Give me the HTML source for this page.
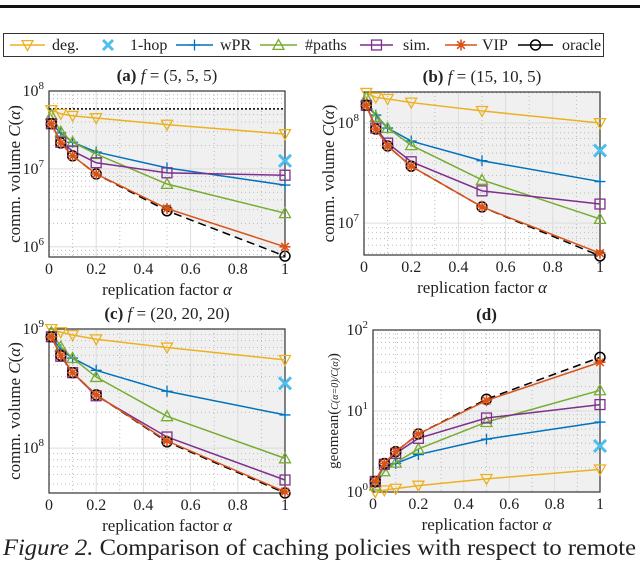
<!DOCTYPE html>
<html><head><meta charset="utf-8"><style>
body{margin:0;background:#fff;width:640px;height:560px;overflow:hidden}
svg text{font-family:"Liberation Serif",serif;fill:#222}
</style></head><body>
<svg id="fig" width="640" height="560" xmlns="http://www.w3.org/2000/svg">
<rect x="0" y="5" width="640" height="3" fill="#111"/>
<g id="legend"></g>
<text x="3" y="555" font-size="23" textLength="633" lengthAdjust="spacingAndGlyphs"><tspan font-style="italic">Figure 2.</tspan> Comparison of caching policies with respect to remote</text>
</svg>
<script>
const alphas=[0.01,0.05,0.1,0.2,0.5,1];
const seriesNames=["deg.","wPR","#paths","sim.","VIP","oracle"];
const aDeg=[5.7e7,5.1e7,4.8e7,4.5e7,3.7e7,2.8e7];
const aWpr=[3.8e7,2.9e7,2.2e7,1.65e7,1.03e7,6.2e6];
const aPaths=[4.9e7,3.0e7,2.2e7,1.55e7,6.4e6,2.7e6];
const aSim=[3.8e7,2.2e7,1.7e7,1.2e7,8.9e6,8.3e6];
const aVip=[3.8e7,2.15e7,1.47e7,8.6e6,3.1e6,1.0e6];
const aOracle=[3.8e7,2.15e7,1.47e7,8.6e6,2.9e6,7.6e5];
const aHop=1.27e7, aBase=5.9e7;
const bDeg=[2.0e8,1.8e8,1.74e8,1.6e8,1.32e8,1.0e8];
const bWpr=[1.5e8,1.2e8,8.9e7,6.6e7,4.2e7,2.6e7];
const bPaths=[1.8e8,1.15e8,8.9e7,6.0e7,2.7e7,1.1e7];
const bSim=[1.5e8,8.9e7,6.3e7,4.1e7,2.1e7,1.55e7];
const bVip=[1.5e8,8.7e7,5.9e7,3.7e7,1.45e7,5.0e6];
const bOracle=[1.5e8,8.7e7,5.9e7,3.7e7,1.45e7,4.7e6];
const bHop=5.3e7, bBase=2.0e8;
const cDeg=[1e9,9.4e8,8.9e8,8.2e8,7.0e8,5.5e8];
const cWpr=[8.6e8,6.7e8,5.7e8,4.5e8,3.0e8,1.9e8];
const cPaths=[9.4e8,7.1e8,5.7e8,3.95e8,1.85e8,8.2e7];
const cSim=[8.6e8,5.9e8,4.3e8,2.75e8,1.24e8,5.4e7];
const cVip=[8.6e8,6.0e8,4.3e8,2.8e8,1.15e8,4.3e7];
const cOracle=[8.6e8,6.0e8,4.3e8,2.8e8,1.13e8,4.2e7];
const cHop=3.5e8, cBase=1e9;
const dDeg=[1.0,1.05,1.1,1.2,1.45,1.9];
const dWpr=[1.3,2.1,2.25,2.9,4.5,7.3];
const dPaths=[1.2,1.8,2.3,3.4,7.3,18];
const dSim=[1.35,2.2,3.0,4.6,8.2,12];
const dVip=[1.35,2.25,3.15,5.2,13.5,40];
const dOracle=[1.35,2.25,3.15,5.2,14,46];
const dHop=3.7, dBase=1;
const xTicks=[0,0.2,0.4,0.6,0.8,1];
const xTickLabels=["0","0.2","0.4","0.6","0.8","1"];

const NS="http://www.w3.org/2000/svg";
const svg=document.getElementById('fig');
const COL={deg:"#EDB120",hop:"#4DBEEE",wpr:"#0072BD",paths:"#77AC30",sim:"#7E2F8E",vip:"#D95319",oracle:"#000"};
function mk(tag,attrs,parent){const e=document.createElementNS(NS,tag);for(const k in attrs)e.setAttribute(k,attrs[k]);(parent||svg).appendChild(e);return e;}
function marker(g,type,x,y,c,s){
  s=s||5;let e;
  if(type==='tri'){e=mk('polygon',{points:`${x},${y-s} ${x-s},${y+s*0.8} ${x+s},${y+s*0.8}`,fill:'none',stroke:c,'stroke-width':1.3},g);}
  else if(type==='itri'){e=mk('polygon',{points:`${x},${y+s} ${x-s},${y-s*0.8} ${x+s},${y-s*0.8}`,fill:'none',stroke:c,'stroke-width':1.3},g);}
  else if(type==='sq'){e=mk('rect',{x:x-s*0.9,y:y-s*0.9,width:s*1.8,height:s*1.8,fill:'none',stroke:c,'stroke-width':1.3},g);}
  else if(type==='plus'){e=mk('path',{d:`M${x-s} ${y}H${x+s}M${x} ${y-s}V${y+s}`,stroke:c,'stroke-width':1.3},g);}
  else if(type==='circ'){e=mk('circle',{cx:x,cy:y,r:s*0.9,fill:'none',stroke:c,'stroke-width':1.5},g);}
  else if(type==='star'){e=mk('path',{d:`M${x-s} ${y}H${x+s}M${x} ${y-s}V${y+s}M${x-s*0.7} ${y-s*0.7}L${x+s*0.7} ${y+s*0.7}M${x-s*0.7} ${y+s*0.7}L${x+s*0.7} ${y-s*0.7}`,stroke:c,'stroke-width':1.6},g);}
  else if(type==='x'){e=mk('path',{d:`M${x-s} ${y-s}L${x+s} ${y+s}M${x-s} ${y+s}L${x+s} ${y-s}`,stroke:c,'stroke-width':3},g);}
  
  
  return e;
}
function panel(id,o){
  const g=mk('g',{});
  
  
  const L=o.x0,R=o.x1,T=o.top,B=o.bot;
  const lmin=Math.log10(o.vmin),lmax=Math.log10(o.vmax);
  const X=a=>L+a*(R-L);
  const Y=v=>B-(Math.log10(v)-lmin)/(lmax-lmin)*(B-T);
  mk('rect',{x:L,y:T,width:R-L,height:B-T,fill:'#fff'},g);
  let pts=`${X(0)},${Y(o.base)} `+alphas.map((a,i)=>`${X(a)},${Y(o.s.oracle[i])}`).join(' ')+` ${X(1)},${Y(o.base)}`;
  const f=mk('polygon',{points:pts,fill:'#f0f0f0'},g);
  
  
  for(let d=Math.floor(lmin);d<=Math.ceil(lmax);d++){
    for(let m=1;m<=9;m++){
      const v=m*Math.pow(10,d);const lv=Math.log10(v);
      if(lv<lmin-1e-9||lv>lmax+1e-9)continue;
      const y=Y(v);
      if(m===1) mk('line',{x1:L,x2:R,y1:y,y2:y,stroke:'#ddd','stroke-width':1},g);
      else mk('line',{x1:L,x2:R,y1:y,y2:y,stroke:'#bbb','stroke-width':1,'stroke-dasharray':'1 3'},g);
    }
  }
  for(let a=0.1;a<1;a+=0.1){ if(Math.abs(a*10-Math.round(a*5)*2)<1e-6) continue; mk('line',{x1:X(a),x2:X(a),y1:T,y2:B,stroke:'#bbb','stroke-dasharray':'1 3'},g);}
  xTicks.forEach((t,i)=>{
    if(i>0&&i<5) mk('line',{x1:X(t),x2:X(t),y1:T,y2:B,stroke:'#ddd'},g);
    const tl=mk('text',{x:X(t),y:B+17,'font-size':16,'text-anchor':'middle'},g);tl.textContent=xTickLabels[i];
    
    
  });
  if(o.baseLine){mk('line',{x1:L,x2:R,y1:Y(o.base),y2:Y(o.base),stroke:'#000','stroke-width':1.5,'stroke-dasharray':'2 2'},g);}
  for(let d=Math.ceil(lmin-1e-9);d<=Math.floor(lmax+1e-9);d++){
    const y=Y(Math.pow(10,d));
    const t=mk('text',{x:L-5,y:y+5,'font-size':16,'text-anchor':'end'},g);
    t.innerHTML=`10<tspan font-size="11" dy="-7">${d}</tspan>`;
    
    
  }
  mk('rect',{x:L,y:T,width:R-L,height:B-T,fill:'none',stroke:'#333','stroke-width':1.2},g);
  const defs=[['deg','itri'],['wpr','plus'],['paths','tri'],['sim','sq'],['oracle','circ'],['vip','star']];
  defs.forEach(([k,m])=>{
    const vals=o.s[k];
    const pl=mk('polyline',{points:alphas.map((a,i)=>`${X(a)},${Y(vals[i])}`).join(' '),fill:'none',stroke:COL[k],'stroke-width':1.5,'stroke-dasharray':k==='oracle'?'8 5':'none'},g);
    
    
    vals.forEach((v,i)=>marker(g,m,X(alphas[i]),Y(v),COL[k],5.5));
  });
  marker(g,'x',X(1),Y(o.hop),COL.hop,6);
  const tt=mk('text',{x:(L+R)/2,y:T-10,'font-size':17,'text-anchor':'middle'},g);
  tt.innerHTML=o.title;
  
  
  const xl=mk('text',{x:(L+R)/2,y:B+38,'font-size':17,'text-anchor':'middle'},g);
  xl.innerHTML='replication factor <tspan font-style="italic">α</tspan>';
  
  
  const yl=mk('text',{x:0,y:0,'font-size':o.ylsize||17,'text-anchor':'middle',transform:`translate(${o.ylx},${(T+B)/2}) rotate(-90)`},g);
  yl.innerHTML=o.ylabel;
  
  
}
const ylC='comm. volume <tspan font-style="italic">C</tspan>(<tspan font-style="italic">α</tspan>)';
panel('a',{x0:49,x1:285,top:91,bot:257,vmin:7.4e5,vmax:1e8,base:aBase,baseLine:true,hop:aHop,
  s:{deg:aDeg,wpr:aWpr,paths:aPaths,sim:aSim,vip:aVip,oracle:aOracle},
  title:'<tspan font-weight="bold">(a)</tspan> <tspan font-style="italic">f</tspan> = (5, 5, 5)',ylx:20,ylabel:ylC});
panel('b',{x0:364,x1:600,top:92,bot:255,vmin:4.8e6,vmax:2.04e8,base:bBase,hop:bHop,
  s:{deg:bDeg,wpr:bWpr,paths:bPaths,sim:bSim,vip:bVip,oracle:bOracle},
  title:'<tspan font-weight="bold">(b)</tspan> <tspan font-style="italic">f</tspan> = (15, 10, 5)',ylx:334,ylabel:ylC});
panel('c',{x0:49,x1:285,top:329,bot:493,vmin:4.2e7,vmax:1e9,base:cBase,hop:cHop,
  s:{deg:cDeg,wpr:cWpr,paths:cPaths,sim:cSim,vip:cVip,oracle:cOracle},
  title:'<tspan font-weight="bold">(c)</tspan> <tspan font-style="italic">f</tspan> = (20, 20, 20)',ylx:20,ylabel:ylC});
panel('d',{x0:373,x1:600,top:330,bot:492,vmin:1,vmax:100,base:dBase,hop:dHop,
  s:{deg:dDeg,wpr:dWpr,paths:dPaths,sim:dSim,vip:dVip,oracle:dOracle},
  title:'<tspan font-weight="bold">(d)</tspan>',ylx:338,ylsize:15,
  ylabel:'geomean(<tspan font-size="10" font-style="italic">C(α=0)/C(α)</tspan>)'});

const lg=document.getElementById('legend');
mk('rect',{x:3.5,y:33.5,width:600,height:23,fill:'#fff',stroke:'#333','stroke-width':1},lg);
const legendItems=[['deg.','deg','itri',10,45,52],['1-hop','hop','x',null,108,130],['wPR','wpr','plus',176,213,220],['#paths','paths','tri',260,297,305],['sim.','sim','sq',360,393,403],['VIP','vip','star',445,477,482],['oracle','oracle','circ',518,553,562]];
legendItems.forEach(([lab,k,m,x1,x2,tx])=>{
  const eg=mk('g',{},lg);
  
  
  if(x1!==null){mk('line',{x1:x1,x2:x2,y1:45,y2:45,stroke:COL[k],'stroke-width':1.5},eg);marker(eg,m,(x1+x2)/2,45,COL[k],5.5);}
  else marker(eg,'x',x2,45,COL[k],5);
  const t=mk('text',{x:tx,y:50,'font-size':16},eg);t.textContent=lab;
});
</script>
</body></html>
